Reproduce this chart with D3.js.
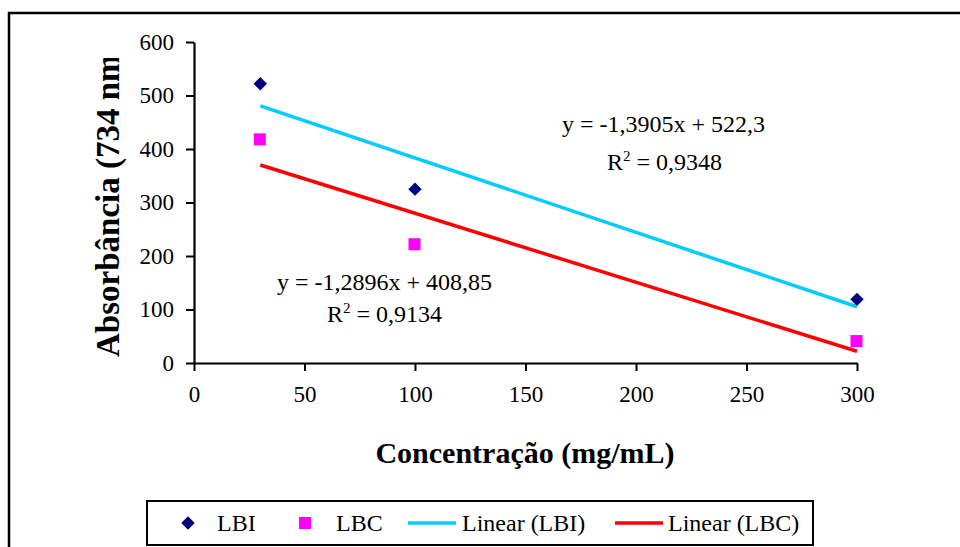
<!DOCTYPE html>
<html lang="pt">
<head>
<meta charset="UTF-8">
<title>Absorbância x Concentração</title>
<script src="https://cdn.jsdelivr.net/npm/d3@7"></script>
<style>
  body { margin: 0; background: #fff; }
  svg { display: block; }
  svg text { font-family: 'Liberation Serif', 'Times New Roman', serif; fill: #000; }
</style>
</head>
<body>
<svg id="chart" width="960" height="547"></svg>
<script>
// data
const concentrations = [30, 100, 300];
const lbiValues = [522, 325, 119];
const lbcValues = [418, 222, 41];
const xTicks = [0, 50, 100, 150, 200, 250, 300];
const yTicks = [0, 100, 200, 300, 400, 500, 600];
// trendline coefficients as printed on the chart [slope, intercept]
const lbiFit = [-1.3905, 522.3];
const lbiR2 = "0,9348";
const lbcFit = [-1.2896, 408.85];
const lbcR2 = "0,9134";
const legendLabels = ["LBI", "LBC", "Linear (LBI)", "Linear (LBC)"];

const svg = d3.select('#chart');

// outer frame (runs past the right/bottom edge like the original)
svg.append('rect')
  .attr('x', 9).attr('y', 13).attr('width', 1000).attr('height', 600)
  .attr('fill', 'none').attr('stroke', '#000').attr('stroke-width', 2.5);

const x = d3.scaleLinear().domain([0, 300]).range([194, 857]);
const y = d3.scaleLinear().domain([0, 600]).range([363, 42]);

// axes
const xAxis = svg.append('g')
  .attr('transform', 'translate(0,363)')
  .call(d3.axisBottom(x).tickValues(xTicks).tickSize(8).tickPadding(14).tickSizeOuter(0));
const yAxis = svg.append('g')
  .attr('transform', 'translate(194,0)')
  .call(d3.axisLeft(y).tickValues(yTicks).tickSize(8).tickPadding(12).tickSizeOuter(0));

[xAxis, yAxis].forEach(a => {
  a.attr('font-family', null).attr('font-size', null);
  a.select('.domain').attr('stroke', '#000').attr('stroke-width', 2.2);
  a.selectAll('.tick line').attr('stroke', '#000').attr('stroke-width', 2);
  a.selectAll('.tick text')
    .attr('fill', '#000')
    .style('font-size', '23px');
});
xAxis.selectAll('.tick text').attr('dy', '0.75em');

// trendlines
const fitLine = (fit) => d3.line()
  .x(d => x(d))
  .y(d => y(fit[0] * d + fit[1]));
const xExtent = d3.extent(concentrations);

svg.append('path')
  .datum(xExtent)
  .attr('d', fitLine(lbiFit))
  .attr('stroke', '#00CCFF').attr('stroke-width', 3.5).attr('fill', 'none');
svg.append('path')
  .datum(xExtent)
  .attr('d', fitLine(lbcFit))
  .attr('stroke', '#FF0000').attr('stroke-width', 3.5).attr('fill', 'none');

// points
const diamond = d3.symbol().type(d3.symbolSquare).size(90);
svg.append('g').selectAll('path')
  .data(concentrations.map((c, i) => [c, lbiValues[i]]))
  .join('path')
  .attr('d', diamond)
  .attr('transform', d => `translate(${x(d[0])},${y(d[1])}) rotate(45)`)
  .attr('fill', '#000080');

svg.append('g').selectAll('rect')
  .data(concentrations.map((c, i) => [c, lbcValues[i]]))
  .join('rect')
  .attr('x', d => x(d[0]) - 6.5)
  .attr('y', d => y(d[1]) - 6)
  .attr('width', 12).attr('height', 12)
  .attr('fill', '#FF00FF');

// equation labels
const fmt = v => String(v).replace('.', ',');
function eqLabel(fit, r2, ex, ey, rx, ry) {
  const sign = fit[1] >= 0 ? '+' : '-';
  svg.append('text')
    .attr('x', ex).attr('y', ey)
    .style('font-size', '24px')
    .text(`y = ${fmt(fit[0])}x ${sign} ${fmt(Math.abs(fit[1]))}`);
  const t = svg.append('text')
    .attr('x', rx).attr('y', ry)
    .style('font-size', '24px');
  t.append('tspan').text('R');
  t.append('tspan').attr('dy', -9).style('font-size', '15px').text('2');
  t.append('tspan').attr('dy', 9).text(` = ${r2}`);
}
eqLabel(lbiFit, lbiR2, 562, 132, 607, 170);
eqLabel(lbcFit, lbcR2, 277, 290, 327, 322);

// axis titles
svg.append('text')
  .attr('x', 525).attr('y', 463)
  .attr('text-anchor', 'middle')
  .style('font-size', '30px').style('font-weight', 'bold')
  .text('Concentração (mg/mL)');

// the original cuts the end of the y title off at the top
svg.append('clipPath').attr('id', 'yclip')
  .append('rect').attr('x', 0).attr('y', 58).attr('width', 180).attr('height', 400);
svg.append('g').attr('clip-path', 'url(#yclip)')
  .append('text')
  .attr('transform', 'translate(119,357) rotate(-90)')
  .style('font-size', '33px').style('font-weight', 'bold')
  .text('Absorbância (734 nm)');

// legend
const legend = svg.append('g');
legend.append('rect')
  .attr('x', 147).attr('y', 501).attr('width', 666).attr('height', 44)
  .attr('fill', '#fff').attr('stroke', '#000').attr('stroke-width', 2);

const legendItems = [
  { label: legendLabels[0], kind: 'diamond', color: '#000080', mx: 188, tx: 217 },
  { label: legendLabels[1], kind: 'square', color: '#FF00FF', mx: 305, tx: 336 },
  { label: legendLabels[2], kind: 'line', color: '#00CCFF', mx: 408, tx: 462 },
  { label: legendLabels[3], kind: 'line', color: '#FF0000', mx: 615, tx: 668 }
];
const ly = 523;
legendItems.forEach(it => {
  if (it.kind === 'diamond') {
    legend.append('path').attr('d', diamond)
      .attr('transform', `translate(${it.mx},${ly}) rotate(45)`)
      .attr('fill', it.color);
  } else if (it.kind === 'square') {
    legend.append('rect')
      .attr('x', it.mx - 6).attr('y', ly - 6).attr('width', 12).attr('height', 12)
      .attr('fill', it.color);
  } else {
    legend.append('line')
      .attr('x1', it.mx).attr('x2', it.mx + 48).attr('y1', ly).attr('y2', ly)
      .attr('stroke', it.color).attr('stroke-width', 3.5);
  }
  legend.append('text')
    .attr('x', it.tx).attr('y', ly + 8)
    .style('font-size', '24px')
    .text(it.label);
});
</script>
</body>
</html>
